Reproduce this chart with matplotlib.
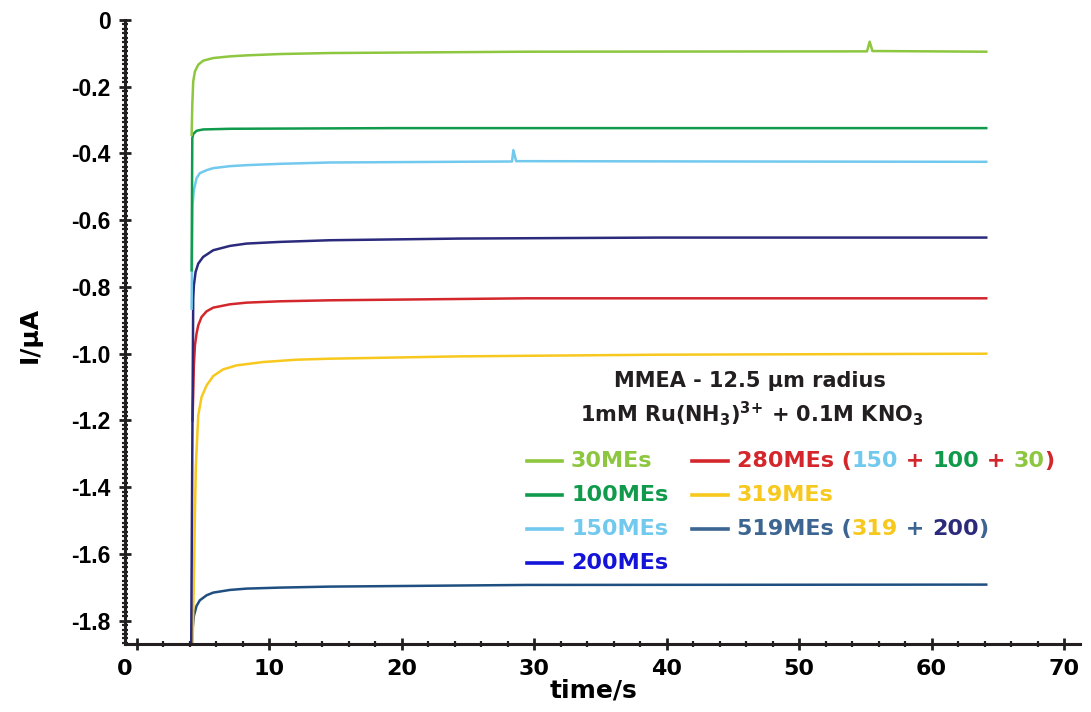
import matplotlib
matplotlib.use("Agg")
import matplotlib.pyplot as plt
from matplotlib.ticker import MultipleLocator, FuncFormatter
from matplotlib.offsetbox import TextArea, HPacker, AnnotationBbox
from matplotlib.lines import Line2D

plt.rcParams['font.family'] = ['Liberation Sans', 'DejaVu Sans']
plt.rcParams['font.weight'] = 'bold'
plt.rcParams['mathtext.fontset'] = 'custom'
plt.rcParams['mathtext.rm'] = 'DejaVu Sans:bold'
plt.rcParams['mathtext.default'] = 'rm'

# ---------------- data ----------------
t_519 = [4.13, 4.2, 4.3, 4.5, 4.75, 5.26, 5.76, 7.02, 8.28, 10.79, 14.57, 29.43, 64.12]
i_519 = [-1.876, -1.826, -1.786, -1.756, -1.739, -1.724, -1.716, -1.708, -1.704, -1.701, -1.698, -1.693, -1.692]

t_319 = [4.2, 4.3, 4.38, 4.45, 4.63, 4.88, 5.26, 5.76, 6.51, 7.52, 9.53, 12.05, 14.57, 24.38, 39.55, 64.12]
i_319 = [-1.876, -1.676, -1.475, -1.335, -1.185, -1.13, -1.095, -1.067, -1.047, -1.035, -1.025, -1.018, -1.015,
         -1.008, -1.003, -1.0]

t_280 = [4.2, 4.3, 4.38, 4.5, 4.63, 4.88, 5.26, 5.76, 7.02, 8.28, 10.79, 14.57, 29.43, 64.12]
i_280 = [-1.2, -1.035, -0.975, -0.94, -0.915, -0.89, -0.873, -0.862, -0.852, -0.847, -0.843, -0.84, -0.834, -0.834]

t_200 = [4.1, 4.18, 4.25, 4.3, 4.43, 4.63, 5.0, 5.76, 7.02, 8.28, 10.79, 14.57, 24.38, 39.55, 64.12]
i_200 = [-1.87, -1.3, -0.835, -0.795, -0.755, -0.73, -0.71, -0.69, -0.677, -0.67, -0.665, -0.66, -0.655, -0.652,
         -0.652]

t_150 = [4.13, 4.2, 4.3, 4.5, 4.75, 5.26, 5.76, 7.02, 8.28, 10.79, 14.57, 28.32, 28.42, 28.63, 44.6, 64.12]
i_150 = [-0.865, -0.555, -0.51, -0.474, -0.459, -0.45, -0.444, -0.438, -0.435, -0.431, -0.427, -0.424, -0.39,
         -0.423, -0.424, -0.425]

t_100 = [4.13, 4.18, 4.25, 4.5, 5.0, 7.02, 19.32, 64.12]
i_100 = [-0.75, -0.354, -0.342, -0.332, -0.328, -0.326, -0.324, -0.324]

t_30 = [4.13, 4.18, 4.25, 4.38, 4.63, 5.0, 5.76, 7.02, 8.28, 10.79, 14.57, 29.43, 55.12, 55.32, 55.53, 64.12]
i_30 = [-0.344, -0.254, -0.184, -0.154, -0.134, -0.122, -0.114, -0.109, -0.106, -0.102, -0.099, -0.095, -0.094,
        -0.065, -0.093, -0.095]

labels = ['30MEs', '100MEs', '150MEs', '200MEs', '280MEs', '319MEs', '519MEs']
x_ticks = [0, 10, 20, 30, 40, 50, 60, 70]
y_ticks = [0, -0.2, -0.4, -0.6, -0.8, -1.0, -1.2, -1.4, -1.6, -1.8]

# ---------------- styling ----------------
c30 = '#8DC63F'
c100 = '#109A4B'
c150 = '#72C9EE'
c200_curve = '#2B2A7C'
c200_leg = '#1414D8'
c280 = '#D3272C'
c319 = '#F7C81E'
c519_curve = '#1E4F80'
c519_leg = '#3C6592'
ink = '#231F20'

W, H = 1091, 712
fig = plt.figure(figsize=(W / 100, H / 100), dpi=100)
ax = fig.add_axes([125 / W, 1 - 644 / H, (1080 - 125) / W, (644 - 20) / H])

lw = 1.8
ax.plot(t_519, i_519, color=c519_curve, lw=lw)
ax.plot(t_319, i_319, color=c319, lw=lw)
ax.plot(t_280, i_280, color=c280, lw=lw)
ax.plot(t_200, i_200, color=c200_curve, lw=lw)
ax.plot(t_150, i_150, color=c150, lw=lw)
ax.plot(t_100, i_100, color=c100, lw=lw)
ax.plot(t_30, i_30, color=c30, lw=lw)

x_left = -0.9
ax.set_xlim(x_left, 71.2)
ax.set_ylim(-1.87, 0)
for s in ['top', 'right']:
    ax.spines[s].set_visible(False)
for s in ['left', 'bottom']:
    ax.spines[s].set_linewidth(2.2)
    ax.spines[s].set_color(ink)

ax.set_xticks(x_ticks)
ax.set_yticks(y_ticks)
ax.xaxis.set_minor_locator(MultipleLocator(2))
ax.yaxis.set_minor_locator(MultipleLocator(0.2 / 15))
ax.yaxis.set_major_formatter(FuncFormatter(lambda v, p: '0' if abs(v) < 1e-9 else f'{v:.1f}'))
# the "0" of the time axis sits at the axis origin in the original, drawn separately below
ax.xaxis.set_major_formatter(FuncFormatter(lambda v, p: '' if abs(v) < 1e-9 else f'{int(round(v))}'))
ax.tick_params(which='major', direction='inout', length=9, width=2, color=ink, pad=6)
ax.tick_params(which='minor', direction='inout', length=5, width=1.6, color=ink)
for lab in ax.get_yticklabels():
    lab.set_fontweight('bold')
    lab.set_fontsize(16.5)
for lab in ax.get_xticklabels():
    lab.set_fontweight('bold')
    lab.set_fontsize(16)
    lab.set_family(['DejaVu Sans'])
ax.annotate(str(x_ticks[0]), xy=(x_left, 0), xycoords=('data', 'axes fraction'), xytext=(0, -10.5),
            textcoords='offset points', ha='center', va='top', fontsize=16, fontweight='bold',
            family=['DejaVu Sans'], annotation_clip=False)

fig.text(593 / W, 1 - 690 / H, 'time/s', ha='center', va='center', fontsize=18, fontweight='bold',
         family=['DejaVu Sans'])
fig.text(30 / W, 1 - 335 / H, 'I/\u03bcA', ha='center', va='center', rotation=90,
         fontsize=18, fontweight='bold', family=['DejaVu Sans'])

# legend block
fs = 16
lfam = ['DejaVu Sans']
fig.text(750 / W, 1 - 381 / H, 'MMEA - 12.5 \u03bcm radius', ha='center', va='center',
         fontsize=15, fontweight='bold', color=ink, family=lfam)
fig.text(752 / W, 1 - 414 / H, r'1mM Ru(NH$_3$)$^{3}$$^{+}$ + 0.1M KNO$_3$', ha='center', va='center',
         fontsize=15, fontweight='bold', color=ink, family=lfam)


def multi(x, y, parts):
    areas = [TextArea(s, textprops=dict(color=c, fontsize=fs, fontweight='bold', family=lfam))
             for s, c in parts]
    box = HPacker(children=areas, pad=0, sep=0, align='baseline')
    ab = AnnotationBbox(box, (x / W, 1 - y / H), xycoords='figure fraction', box_alignment=(0, 0.5),
                        frameon=False, pad=0)
    fig.add_artist(ab)


rows = [461, 495, 529, 563]
col1 = [(labels[0], c30, c30), (labels[1], c100, c100), (labels[2], c150, c150), (labels[3], c200_leg, c200_leg)]
for (txt, lc, tc), y in zip(col1, rows):
    fig.add_artist(Line2D([527 / W, 562 / W], [1 - y / H, 1 - y / H], color=lc, lw=2.6, transform=fig.transFigure))
    multi(571, y, [(txt, tc)])

fig.add_artist(Line2D([692 / W, 728 / W], [1 - rows[0] / H] * 2, color=c280, lw=2.6, transform=fig.transFigure))
multi(737, rows[0], [(labels[4] + ' (', c280), ('150', c150), (' + ', c280), ('100', c100),
                     (' + ', c280), ('30', c30), (')', c280)])
fig.add_artist(Line2D([692 / W, 728 / W], [1 - rows[1] / H] * 2, color=c319, lw=2.6, transform=fig.transFigure))
multi(737, rows[1], [(labels[5], c319)])
fig.add_artist(Line2D([692 / W, 728 / W], [1 - rows[2] / H] * 2, color=c519_leg, lw=2.6, transform=fig.transFigure))
multi(737, rows[2], [(labels[6] + ' (', c519_leg), ('319', c319), (' + ', c519_leg), ('200', c200_curve),
                     (')', c519_leg)])

fig.savefig('out.png', dpi=100)
